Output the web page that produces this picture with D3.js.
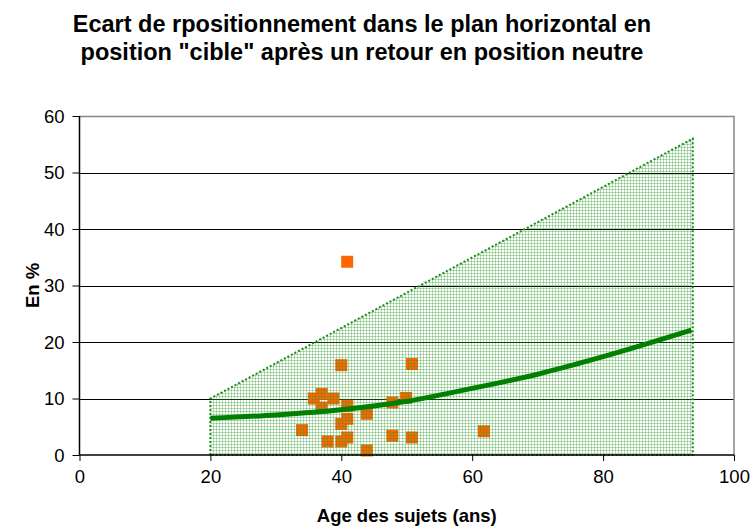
<!DOCTYPE html>
<html>
<head>
<meta charset="utf-8">
<script src="https://cdn.jsdelivr.net/npm/d3@7"></script>
<style>
  body { margin: 0; background: #fff; }
  text { font-family: "Liberation Sans", Arial, sans-serif; fill: #000; }
</style>
</head>
<body>
<div id="chart"></div>
<script>
let SCREEN_WIDTH = 752;
let SCREEN_HEIGHT = 526;

// data
const titleLines = ["Ecart de rpositionnement dans le plan horizontal en",
                    "position \"cible\" après un retour en position neutre"];
const xLabel = "Age des sujets (ans)";
const yLabel = "En %";
const xTicks = [0, 20, 40, 60, 80, 100];
const yTicks = [0, 10, 20, 30, 40, 50, 60];

// subjects : age, gap in %
const ages   = [40.9, 40.0, 50.8, 37.0, 35.8, 38.8, 37.0, 40.9, 43.9, 40.9, 40.0,
                34.0, 47.8, 49.9, 61.8, 47.8, 50.8, 37.9, 40.0, 40.9, 43.9];
const ecarts = [34.2, 15.9, 16.1, 10.8, 10.0, 10.0, 8.4, 8.7, 7.3, 6.4, 5.5,
                4.4, 9.3, 10.1, 4.2, 3.4, 3.1, 2.4, 2.4, 3.1, 0.8];

// trend curve
const trendAges   = [20, 30, 40, 50, 60, 70, 80, 93.5];
const trendValues = [6.5, 7.1, 8.0, 9.5, 11.8, 14.3, 17.4, 22.1];

// shaded "normal" zone
const zoneAges   = [20, 20, 93.7, 93.7];
const zoneValues = [0, 10, 56, 0];

function draw() {
  const width = SCREEN_WIDTH;
  const height = SCREEN_HEIGHT;
  const marginLeft = 79.5;
  const marginRight = 18;
  const marginTop = 116;
  const marginBottom = 71;

  const x = d3.scaleLinear().domain([0, 100]).range([marginLeft, width - marginRight]);
  const y = d3.scaleLinear().domain([0, 60]).range([height - marginBottom, marginTop]);

  const svg = d3.create("svg")
      .attr("width", width)
      .attr("height", height);

  // fill pattern of the zone
  const defs = svg.append("defs");
  const pat = defs.append("pattern")
      .attr("id", "grille")
      .attr("patternUnits", "userSpaceOnUse")
      .attr("width", 3).attr("height", 3);
  pat.append("rect").attr("x", 0).attr("y", 0).attr("width", 3).attr("height", 1)
      .attr("fill", "#2e9a2e").attr("fill-opacity", 0.35);
  pat.append("rect").attr("x", 0).attr("y", 1).attr("width", 1).attr("height", 2)
      .attr("fill", "#2e9a2e").attr("fill-opacity", 0.35);
  pat.append("rect").attr("x", 0).attr("y", 0).attr("width", 1).attr("height", 1)
      .attr("fill", "#1f8a1f").attr("fill-opacity", 0.3);

  // title
  svg.append("g").selectAll("text")
    .data(titleLines)
    .join("text")
      .attr("x", 362)
      .attr("y", (d, i) => 32 + i * 28)
      .attr("text-anchor", "middle")
      .attr("font-weight", "bold")
      .attr("font-size", "23.5px")
      .text(d => d);

  // gridlines
  svg.append("g")
    .selectAll("line")
    .data(yTicks.filter(d => d > 0 && d < 60))
    .join("line")
      .attr("x1", x(0)).attr("x2", x(100))
      .attr("y1", d => Math.round(y(d)) + 0.5).attr("y2", d => Math.round(y(d)) + 0.5)
      .attr("stroke", "#000").attr("stroke-width", 1);

  // plot border (top / right)
  svg.append("path")
      .attr("fill", "none")
      .attr("stroke", "#888")
      .attr("stroke-width", 1.5)
      .attr("d", `M${x(0)},${Math.round(y(60)) + 0.5}H${x(100)}V${y(0)}`);

  // points
  svg.append("g")
    .selectAll("rect")
    .data(ages.map((a, i) => ({x: a, y: ecarts[i]})))
    .join("rect")
      .attr("x", d => x(d.x) - 6)
      .attr("y", d => y(d.y) - 6)
      .attr("width", 12).attr("height", 12)
      .attr("fill", "#ff6600");

  // zone
  const zone = zoneAges.map((a, i) => [x(a), y(zoneValues[i])]);
  const seg = d3.line();
  svg.append("path")
      .attr("d", seg(zone) + "Z")
      .attr("fill", "url(#grille)")
      .attr("stroke", "#1c8c1c")
      .attr("stroke-width", 2)
      .attr("stroke-dasharray", "2,2");

  // trend
  const line = d3.line().x(d => x(d.x)).y(d => y(d.y)).curve(d3.curveMonotoneX);
  svg.append("path")
      .attr("fill", "none")
      .attr("stroke", "#008000")
      .attr("stroke-width", 5)
      .attr("d", line(trendAges.map((a, i) => ({x: a, y: trendValues[i]}))));

  // axes
  const xAxis = svg.append("g")
      .attr("transform", `translate(0,${y(0)})`)
      .call(d3.axisBottom(x).tickValues(xTicks).tickSize(6).tickPadding(9).tickFormat(d3.format("d")));
  const yAxis = svg.append("g")
      .attr("transform", `translate(${x(0)},0)`)
      .call(d3.axisLeft(y).tickValues(yTicks).tickSize(7).tickPadding(8).tickFormat(d3.format("d")));
  [xAxis, yAxis].forEach(function(ax) {
    ax.select(".domain").attr("stroke", "#000").attr("stroke-width", 1.5);
    ax.selectAll(".tick line").attr("stroke", "#000");
    ax.selectAll(".tick text")
      .attr("font-family", "Liberation Sans, Arial, sans-serif")
      .attr("font-size", "18.5px")
      .attr("fill", "#000");
  });
  yAxis.selectAll(".tick text").attr("dy", "0.35em");
  // the x domain has no end caps
  xAxis.select(".domain").attr("d", `M${x(0)},0H${x(100)}`);
  yAxis.select(".domain").attr("d", `M0,${y(60)}V${y(0)}`);

  // axis titles
  svg.append("text")
      .attr("x", (x(0) + x(100)) / 2)
      .attr("y", 522)
      .attr("text-anchor", "middle")
      .attr("font-weight", "bold")
      .attr("font-size", "18.5px")
      .text(xLabel);
  svg.append("text")
      .attr("transform", `translate(39,${(y(0) + y(60)) / 2}) rotate(-90)`)
      .attr("text-anchor", "middle")
      .attr("font-weight", "bold")
      .attr("font-size", "18.5px")
      .text(yLabel);

  d3.select("#chart").append(() => svg.node());
}

draw();
</script>
</body>
</html>
